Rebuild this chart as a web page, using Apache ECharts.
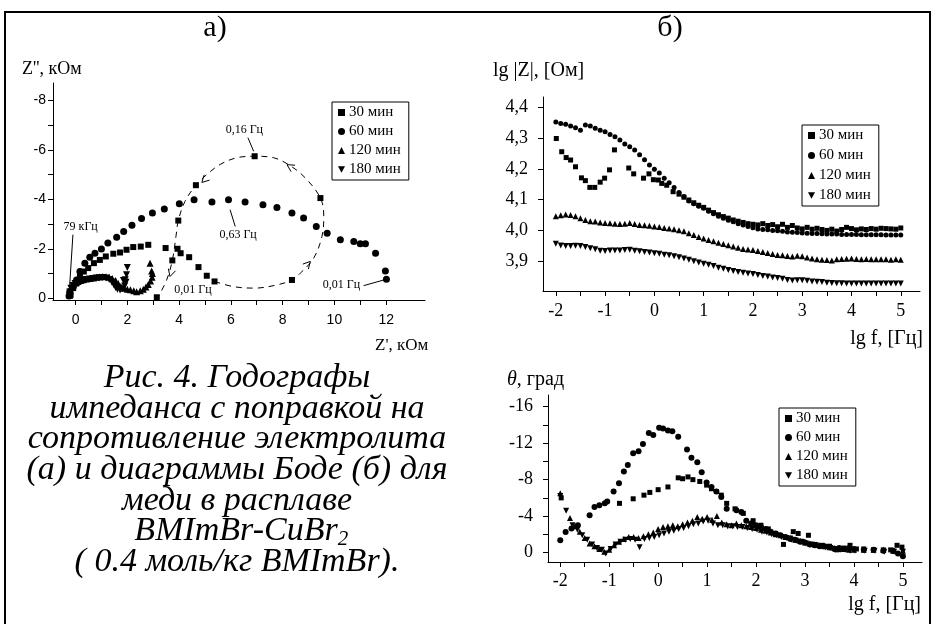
<!DOCTYPE html>
<html>
<head>
<meta charset="utf-8">
<script src="https://cdn.jsdelivr.net/npm/echarts@6/dist/echarts.min.js"></script>
<style>
  html, body { margin: 0; padding: 0; background: #fff; }
  #chart { width: 935px; height: 624px; }
</style>
</head>
<body>
<div id="chart"></div>
<script>
(function () {
    "use strict";

    // ---- data: Nyquist (Z', Z'' in kOhm) ----
    const NYQ_30 = [[-0.19,-0.14],[-0.09,-0.41],[0.04,-0.61],[0.17,-0.88],[0.32,-1.08],[0.49,-1.22],[0.71,-1.42],[0.94,-1.55],
        [1.17,-1.69],[1.46,-1.8],[1.72,-1.85],[1.97,-1.96],[2.23,-2.07],[2.52,-2.09],[2.81,-2.16],[3.48,-2.03],[3.94,-2.0],
        [4.06,-1.82],[4.39,-1.66],[4.75,-1.26],[5.07,-0.91],[5.37,-0.68],[8.36,-0.74],[9.46,-4.05],[6.92,-5.74],[4.65,-4.57],
        [3.97,-3.14],[3.74,-1.53],[3.14,-0.04]];
    // hand-drawn dashed guide of the 30 min low-frequency loop
    const NYQ_30_PATH = [[5.37,-0.68],[6.1,-0.47],[6.92,-0.41],[7.78,-0.54],[8.36,-0.74],[8.68,-1.01],[9.2,-1.62],[9.52,-2.5],
        [9.59,-3.31],[9.46,-4.05],[8.88,-4.86],[8.29,-5.36],[7.65,-5.68],[6.92,-5.74],[6.23,-5.68],[5.59,-5.41],[5.07,-5.0],
        [4.65,-4.57],[4.23,-3.92],[3.97,-3.14],[3.88,-2.5],[3.74,-1.53],[3.52,-0.74],[3.2,-0.07]];
    const NYQ_60 = [[-0.25,-0.09],[-0.22,-0.27],[-0.09,-0.47],[0.04,-0.74],[0.17,-1.08],[0.36,-1.42],[0.55,-1.66],[0.75,-1.82],
        [1.0,-1.99],[1.25,-2.23],[1.59,-2.47],[1.86,-2.7],[2.18,-2.95],[2.55,-3.22],[2.97,-3.45],[3.43,-3.61],[4.01,-3.82],
        [4.58,-3.98],[5.27,-3.89],[5.91,-3.98],[6.55,-3.89],[7.24,-3.78],[7.78,-3.67],[8.36,-3.45],[8.81,-3.24],[9.3,-2.9],
        [9.72,-2.63],[10.23,-2.36],[10.75,-2.29],[11.0,-2.2],[11.2,-2.2],[11.59,-1.82],[11.97,-1.1],[12.01,-0.77]];
    const NYQ_120 = [[-0.22,-0.12],[-0.2,-0.3],[-0.15,-0.45],[-0.08,-0.55],[0.0,-0.62],[0.1,-0.68],[0.2,-0.72],[0.3,-0.75],
        [0.42,-0.78],[0.55,-0.8],[0.68,-0.82],[0.8,-0.85],[0.92,-0.86],[1.05,-0.88],[1.18,-0.87],[1.3,-0.85],[1.42,-0.8],
        [1.55,-0.72],[1.65,-0.6],[1.75,-0.48],[1.88,-0.4],[2.0,-0.36],[2.12,-0.34],[2.25,-0.3],[2.36,-0.26],[2.5,-0.3],
        [2.62,-0.36],[2.72,-0.46],[2.81,-0.56],[2.9,-0.7],[2.96,-0.85],[2.97,-1.0],[2.94,-1.1],[2.88,-1.42]];
    const NYQ_180 = [[-0.24,-0.1],[-0.22,-0.25],[-0.18,-0.4],[-0.1,-0.52],[-0.02,-0.6],[0.08,-0.66],[0.18,-0.7],[0.3,-0.74],
        [0.42,-0.76],[0.55,-0.78],[0.68,-0.8],[0.8,-0.82],[0.92,-0.83],[1.05,-0.84],[1.18,-0.82],[1.3,-0.76],[1.4,-0.66],
        [1.48,-0.55],[1.55,-0.44],[1.62,-0.36],[1.72,-0.33],[1.82,-0.38],[1.9,-0.5],[1.95,-0.65],[1.92,-0.75],[1.85,-0.72],
        [1.97,-0.95],[2.0,-1.24]];

    // ---- data: Bode |Z| (lg f vs lg|Z|) ----
    const LG_F = [-2.0,-1.9,-1.8,-1.7,-1.6,-1.5,-1.4,-1.3,-1.2,-1.1,-1.0,-0.9,-0.8,-0.7,-0.6,-0.5,-0.4,-0.3,-0.2,-0.1,
        0.0,0.1,0.2,0.3,0.4,0.5,0.6,0.7,0.8,0.9,1.0,1.1,1.2,1.3,1.4,1.5,1.6,1.7,1.8,1.9,2.0,2.1,2.2,2.3,2.4,2.5,2.6,2.7,2.8,2.9,
        3.0,3.1,3.2,3.3,3.4,3.5,3.6,3.7,3.8,3.9,4.0,4.1,4.2,4.3,4.4,4.5,4.6,4.7,4.8,4.9,5.0];
    const MAG_30 = [[-1.99,4.299],[-1.88,4.256],[-1.79,4.237],[-1.70,4.229],[-1.60,4.207],[-1.48,4.171],[-1.40,4.162],
        [-1.31,4.140],[-1.21,4.140],[-1.10,4.157],[-1.01,4.170],[-0.91,4.197],[-0.81,4.262],[-0.52,4.203],[-0.42,4.184],
        [-0.22,4.170],[-0.11,4.184],[-0.02,4.165],[0.08,4.164],[0.15,4.153],[0.25,4.147],[0.38,4.126],[0.5,4.118],[0.6,4.108],
        [0.7,4.099],[0.8,4.090],[0.9,4.082],[1.0,4.075],[1.1,4.066],[1.2,4.058],[1.3,4.051],[1.4,4.045],[1.5,4.040],[1.6,4.034],
        [1.7,4.030],[1.8,4.026],[1.9,4.022],[2.0,4.020],[2.1,4.018],[2.2,4.022],[2.3,4.016],[2.4,4.019],[2.5,4.012],[2.6,4.020],
        [2.7,4.010],[2.8,4.016],[2.9,4.008],[3.0,4.005],[3.1,4.010],[3.2,4.004],[3.3,4.007],[3.4,4.003],[3.5,4.000],[3.6,4.004],
        [3.7,3.998],[3.8,4.003],[3.9,4.010],[4.0,4.006],[4.1,4.002],[4.2,4.005],[4.3,4.003],[4.4,4.006],[4.5,4.004],[4.6,4.007],
        [4.7,4.006],[4.8,4.005],[4.9,4.004],[5.0,4.008]];
    const MAG_60 = [4.353,4.348,4.345,4.340,4.334,4.326,4.343,4.340,4.332,4.326,
        4.321,4.312,4.305,4.294,4.281,4.272,4.262,4.246,4.230,4.213,
        4.199,4.187,4.170,4.155,4.140,4.123,4.110,4.096,4.087,4.079,
        4.072,4.062,4.054,4.046,4.040,4.033,4.028,4.022,4.018,4.013,
        4.009,4.005,4.003,4.002,4.000,3.999,3.997,3.995,3.994,3.993,
        3.992,3.991,3.990,3.990,3.989,3.988,3.988,3.988,3.987,3.987,
        3.987,3.987,3.986,3.986,3.986,3.986,3.986,3.985,3.985,3.985,3.985];
    const MAG_120 = [4.046,4.049,4.052,4.050,4.046,4.040,4.034,4.030,4.029,4.026,
        4.024,4.023,4.022,4.021,4.022,4.024,4.021,4.018,4.017,4.015,
        4.013,4.011,4.008,4.006,4.004,4.001,3.997,3.991,3.985,3.979,
        3.974,3.969,3.965,3.960,3.956,3.952,3.948,3.944,3.940,3.938,
        3.936,3.933,3.930,3.927,3.923,3.920,3.919,3.917,3.915,3.918,
        3.916,3.912,3.909,3.906,3.905,3.904,3.902,3.906,3.907,3.908,
        3.909,3.907,3.906,3.907,3.906,3.906,3.906,3.906,3.905,3.906,3.905];
    const MAG_180 = [3.957,3.951,3.949,3.949,3.950,3.949,3.946,3.942,3.939,3.934,
        3.933,3.935,3.935,3.935,3.936,3.937,3.934,3.932,3.930,3.928,
        3.926,3.924,3.921,3.919,3.916,3.913,3.909,3.905,3.900,3.896,
        3.892,3.888,3.884,3.879,3.875,3.871,3.868,3.865,3.862,3.860,
        3.858,3.855,3.852,3.850,3.847,3.845,3.843,3.839,3.837,3.838,
        3.838,3.836,3.834,3.833,3.832,3.830,3.829,3.828,3.828,3.827,
        3.827,3.827,3.827,3.827,3.827,3.827,3.827,3.827,3.827,3.827,3.827];

    // ---- data: Bode phase (lg f vs theta, deg) ----
    const PH_30 = [[-1.98,-6.0],[-0.79,-5.4],[-0.51,-5.9],[-0.29,-6.3],[-0.17,-6.6],[0.0,-6.9],[0.2,-7.2],[0.41,-8.2],[0.5,-8.1],
        [0.61,-8.3],[0.71,-8.0],[0.85,-7.8],[0.99,-7.4],[1.09,-7.0],[1.19,-6.7],[1.29,-6.3],[1.4,-5.4],[1.57,-4.8],[1.74,-4.3],
        [1.94,-3.5],[2.1,-3.0],[2.25,-2.6],[2.4,-2.1],[2.56,-0.9],[2.7,-1.6],[2.76,-2.3],[2.86,-2.1],[2.95,-1.2],[3.07,-1.9],
        [3.2,-0.9],[3.35,-0.8],[3.5,-0.7],[3.65,-0.3],[3.8,-0.5],[3.92,-0.8],[4.05,-0.4],[4.2,-0.4],[4.4,-0.3],[4.6,-0.3],
        [4.75,-0.3],[4.88,-0.8],[4.98,-0.6]];
    const PH_60 = [[-2.0,-1.35],[-1.89,-2.27],[-1.77,-2.64],[-1.64,-3.0],[-1.4,-4.1],[-1.3,-5.0],[-1.2,-5.2],[-1.09,-5.4],
        [-1.04,-5.6],[-0.91,-6.7],[-0.8,-7.6],[-0.7,-8.9],[-0.62,-9.6],[-0.51,-10.9],[-0.4,-11.1],[-0.31,-11.9],[-0.19,-13.1],
        [-0.1,-12.9],[0.02,-13.7],[0.1,-13.6],[0.2,-13.4],[0.29,-13.3],[0.41,-12.7],[0.59,-11.3],[0.68,-10.4],[0.8,-9.9],
        [0.89,-8.8],[0.99,-7.7],[1.09,-7.2],[1.19,-6.7],[1.29,-6.1],[1.4,-4.8],[1.6,-4.65],[1.7,-4.45],[1.8,-3.5],[1.9,-3.2],
        [2.0,-3.0],[2.1,-2.8],[2.2,-2.6],[2.3,-2.3],[2.4,-2.1],[2.5,-1.9],[2.6,-1.7],[2.7,-1.5],[2.8,-1.4],[2.9,-1.2],[3.0,-1.1],
        [3.1,-0.9],[3.2,-0.8],[3.3,-0.7],[3.4,-0.7],[3.5,-0.6],[3.6,-0.4],[3.7,-0.5],[3.8,-0.4],[3.9,-0.5],[4.0,-0.4],[4.2,-0.3],
        [4.4,-0.3],[4.6,-0.2],[4.8,-0.2],[4.9,0.1],[5.0,0.4]];
    const PH_120 = [[-2.0,-6.5],[-1.8,-3.8],[-1.7,-2.9],[-1.6,-2.3],[-1.5,-1.6],[-1.4,-1.0],[-1.3,-0.7],[-1.2,-0.4],[-1.1,-0.1],
        [-1.0,-0.3],[-0.9,-0.8],[-0.8,-1.2],[-0.7,-1.5],[-0.6,-1.7],[-0.5,-1.7],[-0.4,-1.6],[-0.3,-1.8],[-0.2,-2.0],[-0.1,-2.2],
        [0.0,-2.6],[0.1,-2.8],[0.2,-2.9],[0.3,-3.0],[0.4,-2.9],[0.5,-3.1],[0.6,-3.3],[0.7,-3.5],[0.8,-3.9],[0.9,-3.7],[1.0,-3.9],
        [1.1,-3.6],[1.2,-4.0],[1.3,-3.3],[1.4,-3.1],[1.5,-3.0],[1.6,-3.2],[1.7,-3.0],[1.8,-2.9],[1.9,-2.8],[2.0,-2.7],[2.1,-2.5],
        [2.2,-2.4],[2.3,-2.2],[2.4,-2.0],[2.5,-1.9],[2.6,-1.7],[2.7,-1.6],[2.8,-1.4],[2.9,-1.3],[3.0,-1.1],[3.1,-1.0],[3.2,-0.9],
        [3.3,-0.8],[3.4,-0.7],[3.5,-0.6],[3.6,-0.5],[3.7,-0.4],[3.8,-0.4],[3.9,-0.3],[4.0,-0.3],[4.2,-0.3],[4.4,-0.3],[4.6,-0.3],
        [4.8,-0.2],[5.0,-0.2]];
    const PH_180 = [[-2.0,-6.2],[-1.88,-4.6],[-1.75,-3.0],[-1.65,-2.5],[-1.55,-1.9],[-1.45,-1.4],[-1.35,-0.9],[-1.25,-0.5],
        [-1.15,-0.3],[-1.07,0.1],[-0.97,-0.4],[-0.87,-0.9],[-0.77,-1.2],[-0.67,-1.4],[-0.57,-1.5],[-0.47,-1.4],[-0.38,-0.6],
        [-0.28,-1.5],[-0.18,-1.6],[-0.08,-1.7],[0.02,-1.9],[0.12,-2.1],[0.22,-2.3],[0.32,-2.4],[0.42,-2.6],[0.52,-2.7],[0.62,-2.9],
        [0.72,-3.1],[0.82,-3.2],[0.92,-3.4],[1.02,-3.5],[1.12,-3.2],[1.22,-3.0],[1.32,-3.0],[1.42,-2.9],[1.52,-2.9],[1.62,-2.8],
        [1.72,-2.8],[1.82,-2.7],[1.92,-2.6],[2.02,-2.5],[2.12,-2.3],[2.22,-2.2],[2.32,-2.0],[2.42,-1.9],[2.52,-1.7],[2.62,-1.6],
        [2.72,-1.4],[2.82,-1.3],[2.92,-1.2],[3.02,-1.0],[3.12,-0.9],[3.22,-0.8],[3.32,-0.7],[3.42,-0.6],[3.52,-0.5],[3.62,-0.4],
        [3.72,-0.3],[3.82,-0.3],[3.92,-0.2],[4.02,-0.2],[4.22,-0.2],[4.42,-0.2],[4.62,-0.1],[4.82,-0.1],[5.0,-0.1]];

    // ---- ticks / labels ----
    const SERIES_NAMES = ["30 мин", "60 мин", "120 мин", "180 мин"];
    const NYQ_X_LABELS = [0, 2, 4, 6, 8, 10, 12];
    const NYQ_X_TICKS = [0, 1, 2, 3, 4, 5, 6, 7, 8, 9, 10, 11, 12];
    const NYQ_Y_LABELS = [-8, -6, -4, -2, 0];
    const NYQ_Y_TICKS = [-8, -7, -6, -5, -4, -3, -2, -1, 0];
    const LGF_LABELS = [-2, -1, 0, 1, 2, 3, 4, 5];
    const LGF_TICKS = [-2, -1.5, -1, -0.5, 0, 0.5, 1, 1.5, 2, 2.5, 3, 3.5, 4, 4.5, 5];
    const MAG_Y_LABELS = [3.9, 4.0, 4.1, 4.2, 4.3, 4.4];
    const PH_Y_LABELS = [-16, -12, -8, -4, 0];
    const PH_Y_TICKS = [-16, -14, -12, -10, -8, -6, -4, -2, 0];

    const NYQ_NOTES = [
        { text: "0,16 Гц", at: [6.52, -6.82], line: [[6.66, -6.49], [6.88, -5.94]] },
        { text: "0,63 Гц", at: [6.28, -2.57], line: [[5.97, -3.58], [6.17, -2.9]] },
        { text: "79 кГц", at: [0.2, -2.89], line: [[-0.1, -2.57], [-0.25, -0.13]] },
        { text: "0,01 Гц", at: [4.54, -0.34] },
        { text: "0,01 Гц", at: [10.27, -0.54], line: [[11.13, -0.51], [11.91, -0.74]] }
    ];
    // [Z', Z'', screen direction in degrees]
    const NYQ_ARROWS = [[8.17, -5.4, -148], [4.88, -4.68, 135], [3.65, -0.88, 106], [9.07, -1.49, -48]];

    const SERIF = "Liberation Serif";
    const SANS = "Liberation Sans";
    const SYM = ["rect", "circle", "triangle", "path://M0,0L10,0L5,9Z"];

    const chart = echarts.init(document.getElementById("chart"), null, { renderer: "canvas" });

    function axis(grid, min, max, ticks, labels, o) {
        return {
            type: "value", gridIndex: grid, min, max, inverse: !!o.inverse, position: o.pos,
            axisLine: { show: true, onZero: false, lineStyle: { color: "#000", width: 1 } },
            axisTick: { show: true, inside: false, length: 5, customValues: ticks, lineStyle: { color: "#000", width: 1 } },
            axisLabel: {
                customValues: labels, color: "#000", fontFamily: o.font, fontSize: o.size, margin: o.margin,
                formatter: o.fmt || (v => String(v))
            },
            splitLine: { show: false }
        };
    }

    function sc(name, data, gi, k, size) {
        return {
            type: "scatter", name, data, xAxisIndex: gi, yAxisIndex: gi,
            symbol: SYM[k], symbolSize: size, itemStyle: { color: "#000", opacity: 1 }, silent: true
        };
    }

    const zip = ys => LG_F.map((f, i) => [f, ys[i]]);

    function legend(left, top, gap) {
        return {
            data: SERIES_NAMES, orient: "vertical", left, top, itemGap: gap, itemWidth: 7, itemHeight: 7,
            padding: [3, 8, 3, 6], borderColor: "#000", borderWidth: 1, backgroundColor: "#fff",
            selectedMode: false, itemStyle: { opacity: 1 },
            textStyle: { fontFamily: SERIF, fontSize: 15, color: "#000", padding: [0, 0, 0, -1] }
        };
    }

    chart.setOption({
        animation: false,
        grid: [
            { left: 53, top: 83, width: 372, height: 217 },
            { left: 543, top: 97, width: 377, height: 194 },
            { left: 548, top: 395, width: 374, height: 167 }
        ],
        xAxis: [
            axis(0, -0.87, 13.5, NYQ_X_TICKS, NYQ_X_LABELS, { pos: "bottom", font: SANS, size: 14, margin: 13 }),
            axis(1, -2.26, 5.39, LGF_TICKS, LGF_LABELS, { pos: "bottom", font: SERIF, size: 18, margin: 11 }),
            axis(2, -2.25, 5.39, LGF_TICKS, LGF_LABELS, { pos: "bottom", font: SERIF, size: 18, margin: 10 })
        ],
        yAxis: [
            axis(0, -8.7, 0.07, NYQ_Y_TICKS, NYQ_Y_LABELS, { pos: "left", inverse: true, font: SANS, size: 14, margin: 7 }),
            axis(1, 3.803, 4.434, MAG_Y_LABELS, MAG_Y_LABELS, {
                pos: "left", font: SERIF, size: 18, margin: 15, fmt: v => v.toFixed(1).replace(".", ",")
            }),
            axis(2, -17.28, 1.03, PH_Y_TICKS, PH_Y_LABELS, { pos: "left", inverse: true, font: SERIF, size: 18, margin: 15 })
        ],
        legend: [legend(332, 102, 4), legend(802, 125, 5), legend(779, 408, 4)],
        series: [
            {
                type: "line", name: "path30", data: NYQ_30_PATH, xAxisIndex: 0, yAxisIndex: 0, smooth: 0.35,
                symbol: "none", silent: true, lineStyle: { color: "#000", width: 1, type: [6, 5] }
            },
            sc(SERIES_NAMES[0], NYQ_30, 0, 0, 6),
            sc(SERIES_NAMES[1], NYQ_60, 0, 1, 7),
            sc(SERIES_NAMES[2], NYQ_120, 0, 2, 7),
            sc(SERIES_NAMES[3], NYQ_180, 0, 3, 7),
            sc(SERIES_NAMES[0], MAG_30, 1, 0, 5),
            sc(SERIES_NAMES[1], zip(MAG_60), 1, 1, 5),
            sc(SERIES_NAMES[2], zip(MAG_120), 1, 2, 6),
            sc(SERIES_NAMES[3], zip(MAG_180), 1, 3, 6),
            sc(SERIES_NAMES[0], PH_30, 2, 0, 5),
            sc(SERIES_NAMES[1], PH_60, 2, 1, 6),
            sc(SERIES_NAMES[2], PH_120, 2, 2, 6),
            sc(SERIES_NAMES[3], PH_180, 2, 3, 6)
        ]
    });

    // ---- static texts, frame, caption ----
    const CAPTION = [
        "Рис. 4. Годографы",
        "импеданса с поправкой на",
        "сопротивление электролита",
        "(а) и диаграммы Боде (б) для",
        "меди в расплаве",
        " BMImBr-CuBr{s|2}",
        "( 0.4 моль/кг BMImBr)."
    ];

    function txt(text, x, y, font, size, align, extra) {
        return {
            type: "text", silent: true, z: 100,
            style: Object.assign({
                text, x, y, fill: "#000", fontFamily: font, fontSize: size,
                textAlign: align || "left", textVerticalAlign: "middle"
            }, extra || {})
        };
    }

    const g = [
        {
            type: "polyline", silent: true, z: 100,
            shape: { points: [[5, 624], [5, 12], [930, 12], [930, 624]] },
            style: { stroke: "#000", lineWidth: 2, fill: null }
        },
        txt("а)", 215, 28, SERIF, 30, "center"),
        txt("б)", 670, 28, SERIF, 30, "center"),
        txt("Z'', кОм", 22, 69, SERIF, 18),
        txt("Z', кОм", 375, 346, SERIF, 17),
        txt("lg |Z|, [Ом]", 493, 71, SERIF, 20),
        txt("lg f, [Гц]", 923, 339, SERIF, 20, "right"),
        txt("{t|θ}, град", 507, 380, SERIF, 20, "left", { rich: { t: { fontStyle: "italic", fontFamily: SERIF, fontSize: 20 } } }),
        txt("lg f, [Гц]", 921, 605, SERIF, 20, "right")
    ];

    CAPTION.forEach((line, i) => {
        g.push(txt(line, 237, 378 + i * 30.7, SERIF, 34, "center", {
            fontStyle: "italic",
            rich: { s: { fontStyle: "italic", fontFamily: SERIF, fontSize: 21, padding: [16, 0, 0, 0] } }
        }));
    });

    // ---- annotations anchored to Nyquist data coordinates ----
    const toPx = p => chart.convertToPixel({ gridIndex: 0 }, p);
    NYQ_NOTES.forEach(n => {
        const p = toPx(n.at);
        g.push(txt(n.text, p[0], p[1], SERIF, 12, "center"));
        if (n.line) {
            g.push({
                type: "polyline", silent: true, z: 100,
                shape: { points: n.line.map(toPx) },
                style: { stroke: "#000", lineWidth: 1, fill: null }
            });
        }
    });
    NYQ_ARROWS.forEach(([x, y, deg]) => {
        const tip = toPx([x, y]);
        const a = deg * Math.PI / 180, spread = 28 * Math.PI / 180, len = 8;
        const b1 = [tip[0] - len * Math.cos(a - spread), tip[1] - len * Math.sin(a - spread)];
        const b2 = [tip[0] - len * Math.cos(a + spread), tip[1] - len * Math.sin(a + spread)];
        g.push({
            type: "polyline", silent: true, z: 100,
            shape: { points: [b1, tip, b2] },
            style: { stroke: "#000", lineWidth: 1, fill: null }
        });
    });

    chart.setOption({ graphic: g });
    window.addEventListener("resize", () => chart.resize());
})();
</script>
</body>
</html>
